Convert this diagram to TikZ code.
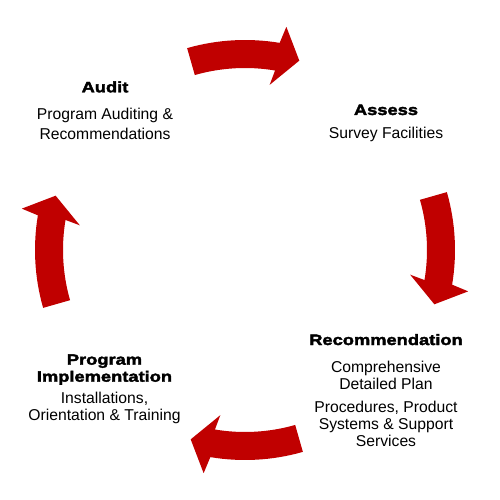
\documentclass[tikz,border=0pt]{standalone}
\usepackage{fontspec}
\setmainfont{Liberation Sans}
\newfontfamily\heavyfont{Liberation Sans Bold}[FakeStretch=1.22,FakeBold=2.5]
\usetikzlibrary{positioning}
\definecolor{cyclered}{RGB}{192,0,0}
\begin{document}
\begin{tikzpicture}[x=1pt,y=1pt,
	heading/.style={anchor=base,align=center,inner sep=0pt,font=\heavyfont\fontsize{15}{17}\selectfont},
	detail/.style={anchor=base,align=center,inner sep=0pt,font=\fontsize{15.7}{17}\selectfont}]
	\useasboundingbox (-245,-250) rectangle (255,250);
	\foreach \a in {90,0,-90,180}
		\fill[cyclered] (\a+16:210pt) arc[start angle=\a+16,end angle=\a-9.5,radius=210pt]
			-- (\a-10.5:227pt) -- (\a-16:197pt) -- (\a-8.5:167pt) -- (\a-9.5:182pt)
			arc[start angle=\a-9.5,end angle=\a+16,radius=182pt] -- cycle;
	\node[heading] (audit) at (-140,157.7) {Audit};
	\node[detail] (auditText) at ([yshift=-47]audit.base) {Program Auditing \&\\[3pt]Recommendations};
	\node[heading] (assess) at (141,135) {Assess};
	\node[detail] (assessText) at ([yshift=-23.3]assess.base) {Survey Facilities};
	\node[heading] (recommend) at (141,-95) {Recommendation};
	\node[detail] (recommendText) at ([yshift=-101]recommend.base) {Comprehensive\\Detailed Plan\\[5.4pt]Procedures, Product\\Systems \& Support\\Services};
	\node[heading] (program) at (-140.5,-131.7) {Program\\Implementation};
	\node[detail] (programText) at ([yshift=-38.3]program.base) {Installations,\\Orientation \& Training};
\end{tikzpicture}
\end{document}
